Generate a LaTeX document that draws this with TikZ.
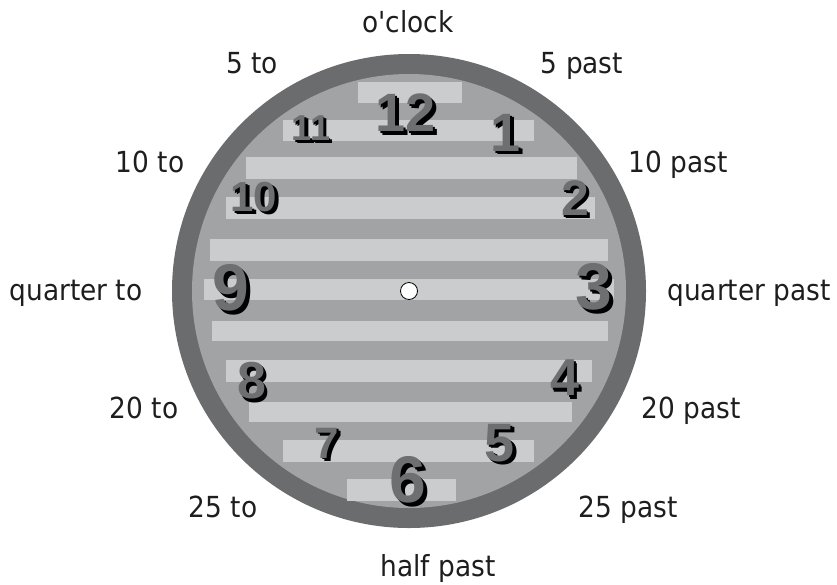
\documentclass[tikz,border=0pt]{standalone}
\usepackage{fontspec}
\setmainfont{DejaVu Sans}[FakeStretch=0.91, Ligatures=TeXOff]
\newfontfamily\numfont{Liberation Sans}
\definecolor{ringcol}{HTML}{6B6C6E}
\definecolor{diskcol}{HTML}{A1A3A5}
\definecolor{stripecol}{HTML}{CBCCCD}
\definecolor{facecol}{HTML}{6E6F71}
\definecolor{labelcol}{HTML}{1E1E1E}
\tikzset{
  lbl/.style={font=\fontsize{29}{29}\selectfont, anchor=base, inner sep=0pt, text=labelcol},
  numtext/.style={font=\numfont\bfseries\fontsize{#1}{#1}\selectfont, inner sep=0pt},
  stripe/.style={fill=stripecol, draw=none}
}
\newcommand\clockdigit[5]{%
  \foreach \k in {2,4}{%
    \node[numtext={#4}, text=black, xshift=0.85*\k pt, yshift=-0.85*\k pt] at (#2,#3) {#5};}%
  \node[numtext={#4}, text=facecol] (#1) at (#2,#3) {#5};%
}
\begin{document}
\begin{tikzpicture}[x=1pt,y=-1pt]
\useasboundingbox (0,0) rectangle (837,584);
% clock body
\coordinate (c) at (409,291);
\fill[ringcol] (c) circle[radius=237];
\fill[diskcol] (c) circle[radius=217];
% stripes
\fill[stripe] (358,82) rectangle (462,103);
\fill[stripe] (283,120) rectangle (534,141);
\fill[stripe] (246,157) rectangle (577,179);
\fill[stripe] (226,197) rectangle (595,219);
\fill[stripe] (210,239) rectangle (608,261);
\fill[stripe] (204,279) rectangle (614,300);
\fill[stripe] (212,321) rectangle (608,341);
\fill[stripe] (226,360) rectangle (592,382);
\fill[stripe] (249,402) rectangle (572,422);
\fill[stripe] (283,440) rectangle (534,462);
\fill[stripe] (347,479) rectangle (456,501);
% numerals
\clockdigit{n12}{406}{113}{54}{12}
\clockdigit{n11}{311}{128}{36}{11}
\clockdigit{n1}{506}{133}{54}{1}
\clockdigit{n10}{254}{197}{42}{10}
\clockdigit{n2}{575}{198}{50}{2}
\clockdigit{n9}{231}{288}{66}{9}
\clockdigit{n3}{594}{287}{66}{3}
\clockdigit{n4}{565}{378}{52}{4}
\clockdigit{n8}{252}{381}{52}{8}
\clockdigit{n7}{327}{443}{44}{7}
\clockdigit{n5}{500}{443}{54}{5}
\clockdigit{n6}{408}{480}{66}{6}
% centre
\node[circle, fill=white, draw=black, line width=0.8pt, minimum size=17pt, inner sep=0pt] (dot) at (c) {};
% labels
\node[lbl] (oclock) at (408,32) {o'clock};
\node[lbl] (fiveto) at (252,73) {5 to};
\node[lbl] (fivepast) at (582,73) {5 past};
\node[lbl] (tento) at (150,172) {10 to};
\node[lbl] (tenpast) at (678,172) {10 past};
\node[lbl] (qto) at (76,300) {quarter to};
\node[lbl] (qpast) at (749,300) {quarter past};
\node[lbl] (twentyto) at (144,418) {20 to};
\node[lbl] (twentypast) at (691,418) {20 past};
\node[lbl] (tfto) at (223,517) {25 to};
\node[lbl] (tfpast) at (628,517) {25 past};
\node[lbl] (half) at (438,576) {half past};
\end{tikzpicture}
\end{document}
